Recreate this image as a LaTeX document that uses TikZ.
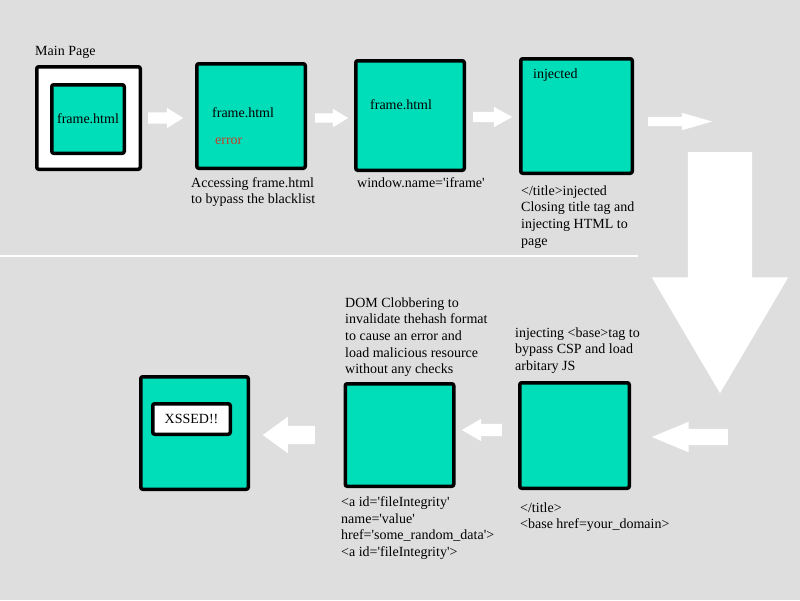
\documentclass[tikz,border=0pt]{standalone}
\usepackage{fontspec}
\setmainfont{Liberation Serif}
\usetikzlibrary{shapes.arrows, positioning}
\definecolor{pagefill}{RGB}{0,221,185}
\definecolor{canvas}{RGB}{222,222,222}
\definecolor{errred}{RGB}{200,62,40}
\newcommand*{\sq}{\textquotesingle}

\begin{document}
\begin{tikzpicture}[x=1pt,y=-1pt,
      every node/.style={font=\fontsize{14}{16.7}\selectfont},
      page/.style={draw,line width=3.5pt,rounded corners=2pt,fill=pagefill,inner sep=0pt},
      note/.style={anchor=base west,align=left,inner sep=0pt},
      flow/.style 2 args={single arrow,fill=white,inner xsep=0pt,inner ysep=#1,
        single arrow head extend=#2,anchor=tail}]
      \fill[canvas] (0,0) rectangle (800,600);
      \useasboundingbox (0,0) rectangle (800,600);
      \draw[white,line width=1.5pt] (0,256) -- (638,256);

      \node[page,fill=white,minimum width=103.5,minimum height=102.5] (main) at (88.5,118) {};
      \node[page,minimum width=72.5,minimum height=68.5] (frame) at (88,119) {frame.html};
      \node[page,minimum width=108.5,minimum height=104.5] (access) at (251,116) {};
      \node[page,minimum width=108.5,minimum height=109.5] (window) at (410,115.5) {};
      \node[page,minimum width=111.5,minimum height=114.5] (inject) at (576.5,116) {};
      \node[page,minimum width=109.5,minimum height=105.5] (base) at (574.5,435.5) {};
      \node[page,minimum width=108.5,minimum height=102.5] (clobber) at (399.5,435) {};
      \node[page,minimum width=107.5,minimum height=112.5] (xss) at (194.5,433) {};
      \node[page,fill=white,minimum width=77.5,minimum height=30.5] (xssed) at (191.5,419) {XSSED!!};

      \node[note] (mainlbl) at (35,55) {Main Page};
      \node[note] (accesstxt) at (212,117) {frame.html};
      \node[note,text=errred] (errortxt) at (215,144) {error};
      \node[note] (windowtxt) at (370,109) {frame.html};
      \node[note] (injecttxt) at (533,78) {injected};

      \node[note] (accesslbl) at (191,203.7) {Accessing frame.html\\to bypass the blacklist};
      \node[note] (windowlbl) at (357,187) {window.name=\sq iframe\sq};
      \node[note] (injectlbl) at (521,245.1) {</title>injected\\Closing title tag and\\injecting HTML to\\page};
      \node[note] (clobberlbl) at (345,373.8) {DOM Clobbering to\\invalidate thehash format\\to cause an error and\\load malicious resource\\without any checks};
      \node[note] (baselbl) at (515,370.4) {injecting <base>tag to\\bypass CSP and load\\arbitary JS};
      \node[note] (basecode) at (520,528.7) {</title>\\<base href=your\_domain>};
      \node[note] (clobbercode) at (341,556.5) {<a id=\sq fileIntegrity\sq\\name=\sq value\sq\\href=\sq some\_random\_data\sq>\\<a id=\sq fileIntegrity\sq>};

      \node[flow={5.5}{4.5},minimum height=35,single arrow tip angle=64] (a1) at (148,118) {};
      \node[flow={4.5}{4.5},minimum height=33,single arrow tip angle=62] (a2) at (315,118) {};
      \node[flow={5}{5},minimum height=39,single arrow tip angle=58] (a3) at (473,117) {};
      \node[flow={4.5}{4},minimum height=64,single arrow tip angle=32] (a4) at (648,121.5) {};
      \node[flow={32}{36},rotate=-90,minimum height=241,single arrow tip angle=61] (down) at (720,152) {};
      \node[flow={8}{7},rotate=180,minimum height=76,single arrow tip angle=45] (a5) at (728,437) {};
      \node[flow={6}{5},rotate=180,minimum height=40,single arrow tip angle=60] (a6) at (502,430) {};
      \node[flow={9}{9},rotate=180,minimum height=52,single arrow tip angle=72] (a7) at (315,435) {};
    \end{tikzpicture}
\end{document}
